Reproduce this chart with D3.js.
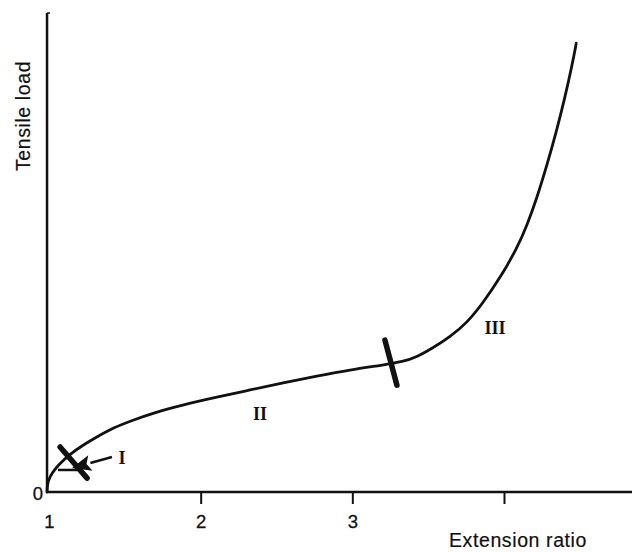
<!DOCTYPE html>
<html>
<head>
<meta charset="utf-8">
<script src="https://cdn.jsdelivr.net/npm/d3@7"></script>
<style>
  html, body { margin: 0; padding: 0; background: #fff; }
  svg { display: block; }
</style>
</head>
<body>
<svg id="chart" width="632" height="552"></svg>
<script>
// ---- data (extension ratio vs tensile load, arbitrary load units) ----
const curveX = [0.987, 0.988, 0.993, 1.020, 1.066, 1.138, 1.224, 1.316, 1.422, 1.554, 1.686, 1.884, 2.108, 2.325, 2.543, 2.767, 2.985, 3.202, 3.334, 3.426, 3.532, 3.644, 3.756, 3.862, 3.974, 4.086, 4.152, 4.218, 4.283, 4.349, 4.402, 4.448, 4.475, 4.476];
const curveY = [0, 0.8, 2.3, 4.0, 5.8, 7.9, 9.8, 11.5, 13.4, 15.0, 16.5, 18.2, 19.8, 21.3, 22.8, 24.2, 25.5, 26.5, 27.2, 28.2, 30.1, 32.4, 35.3, 39.5, 44.7, 50.9, 55.7, 61.5, 68.2, 75.7, 82.4, 89.0, 93.4, 93.7];

const xTickValues = [1, 2, 3, 4];
const xTickLabels = ["1", "2", "3", ""];
const yTickValues = [0];
const yTickLabels = ["0"];

// region labels
const regionNames = ["I", "II", "III"];
const regionX = [1.481, 2.391, 3.94];
const regionY = [7.1, 16.3, 34.2];

// region boundary marks (data units): [x1, y1, x2, y2]
const boundaryMarks = [
  [1.073, 9.4, 1.251, 2.9],
  [3.215, 31.7, 3.294, 22.3]
];
// arrow from label I to region I
const arrowFrom = [1.415, 7.3];
const arrowTo = [1.152, 5.0];
const regionIBar = [1.059, 4.6, 1.204, 4.6];

const xLabel = "Extension ratio";
const yLabel = "Tensile load";

// ---- layout ----
const svg = d3.select("#chart");
const x = d3.scaleLinear().domain([1, 4]).range([49, 504]);
const y = d3.scaleLinear().domain([0, 100]).range([492, 13]);
const xAxisEnd = 632;
const axisX = x(0.987);

const ink = "#111";

// axes lines
svg.append("line")
  .attr("x1", axisX - 1).attr("x2", xAxisEnd)
  .attr("y1", y(0)).attr("y2", y(0))
  .attr("stroke", ink).attr("stroke-width", 2.5);
svg.append("line")
  .attr("x1", axisX).attr("x2", axisX)
  .attr("y1", y(100)).attr("y2", y(0) + 1)
  .attr("stroke", ink).attr("stroke-width", 2.5);
svg.append("line")
  .attr("x1", axisX).attr("x2", axisX + 3)
  .attr("y1", y(100)).attr("y2", y(100))
  .attr("stroke", ink).attr("stroke-width", 1.5);

// x ticks
const xAxis = d3.axisBottom(x)
  .tickValues(xTickValues)
  .tickSize(12)
  .tickPadding(6)
  .tickFormat((d, i) => xTickLabels[i]);
const gx = svg.append("g")
  .attr("transform", `translate(0,${y(0)})`)
  .call(xAxis);
gx.select(".domain").remove();
gx.selectAll(".tick line")
  .attr("stroke", ink).attr("stroke-width", 2)
  .attr("display", d => d === 1 ? "none" : null);
gx.selectAll(".tick text")
  .attr("font-family", "Liberation Sans, Arial, sans-serif")
  .attr("font-size", 18.5)
  .attr("fill", ink)
  .attr("stroke", ink).attr("stroke-width", 0.3)
  .attr("dy", "0")
  .attr("y", 36);

// y tick label
svg.selectAll(".ytl").data(yTickValues).enter().append("text")
  .attr("class", "ytl")
  .attr("x", axisX - 4)
  .attr("y", d => y(d) + 8)
  .attr("text-anchor", "end")
  .attr("font-family", "Liberation Sans, Arial, sans-serif")
  .attr("font-size", 18.5)
  .attr("fill", ink)
  .attr("stroke", ink).attr("stroke-width", 0.3)
  .text((d, i) => yTickLabels[i]);

// axis titles
svg.append("text")
  .attr("x", 587).attr("y", 547)
  .attr("text-anchor", "end")
  .attr("font-family", "Liberation Sans, Arial, sans-serif")
  .attr("font-size", 19.5)
  .attr("letter-spacing", 0.6)
  .attr("fill", ink)
  .attr("stroke", ink).attr("stroke-width", 0.2)
  .text(xLabel);
svg.append("text")
  .attr("transform", "translate(30,116) rotate(-90)")
  .attr("text-anchor", "middle")
  .attr("font-family", "Liberation Sans, Arial, sans-serif")
  .attr("font-size", 19.5)
  .attr("letter-spacing", 0.6)
  .attr("fill", ink)
  .attr("stroke", ink).attr("stroke-width", 0.2)
  .text(yLabel);

// curve
const pts = curveX.map((d, i) => [d, curveY[i]]);
const line = d3.line()
  .x(d => x(d[0])).y(d => y(d[1]))
  .curve(d3.curveBasis);
svg.append("path")
  .datum(pts)
  .attr("d", line)
  .attr("fill", "none")
  .attr("stroke", ink)
  .attr("stroke-width", 2.8)
  .attr("stroke-linecap", "round")
  .attr("stroke-linejoin", "round");

// boundary marks
svg.selectAll(".bm").data(boundaryMarks).enter().append("line")
  .attr("class", "bm")
  .attr("x1", d => x(d[0])).attr("y1", d => y(d[1]))
  .attr("x2", d => x(d[2])).attr("y2", d => y(d[3]))
  .attr("stroke", ink).attr("stroke-width", 5.5)
  .attr("stroke-linecap", "round");

// region I bar
svg.append("line")
  .attr("x1", x(regionIBar[0])).attr("y1", y(regionIBar[1]))
  .attr("x2", x(regionIBar[2])).attr("y2", y(regionIBar[3]))
  .attr("stroke", ink).attr("stroke-width", 2.5);

// arrow
const ax1 = x(arrowFrom[0]), ay1 = y(arrowFrom[1]);
const ax2 = x(arrowTo[0]), ay2 = y(arrowTo[1]);
const ang = Math.atan2(ay2 - ay1, ax2 - ax1);
const headLen = 19, headW = 8;
const bx = ax2 - headLen * Math.cos(ang), by = ay2 - headLen * Math.sin(ang);
svg.append("line")
  .attr("x1", ax1).attr("y1", ay1).attr("x2", bx).attr("y2", by)
  .attr("stroke", ink).attr("stroke-width", 2.5);
svg.append("path")
  .attr("d", d3.line()([
    [ax2, ay2],
    [bx + headW * Math.sin(ang), by - headW * Math.cos(ang)],
    [bx + 4 * Math.cos(ang), by + 4 * Math.sin(ang)],
    [bx - headW * Math.sin(ang), by + headW * Math.cos(ang)]
  ]) + "Z")
  .attr("fill", ink);

// region labels
svg.selectAll(".rl").data(regionNames).enter().append("text")
  .attr("class", "rl")
  .attr("x", (d, i) => x(regionX[i]))
  .attr("y", (d, i) => y(regionY[i]))
  .attr("text-anchor", "middle")
  .attr("dy", "0.35em")
  .attr("font-family", "Liberation Serif, Times New Roman, serif")
  .attr("font-weight", "bold")
  .attr("font-size", 18)
  .attr("fill", ink)
  .text(d => d);
</script>
</body>
</html>
